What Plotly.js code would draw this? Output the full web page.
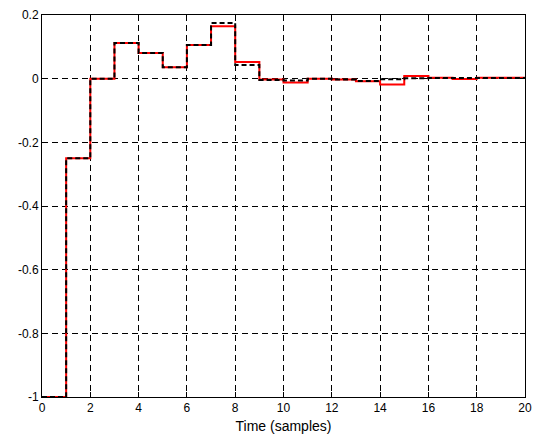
<!DOCTYPE html>
<html>
<head>
<meta charset="utf-8">
<script src="https://cdn.plot.ly/plotly-3.0.1.min.js"></script>
<style>html,body{margin:0;padding:0;background:#fff;}#chart{width:537px;height:441px;}</style>
</head>
<body>
<div id="chart"></div>
<script>
const samples = [0,1,2,3,4,5,6,7,8,9,10,11,12,13,14,15,16,17,18,19,20];
const redValues = [-1,-0.25,0,0.112,0.081,0.036,0.106,0.165,0.052,-0.003,-0.012,0,-0.003,-0.008,-0.018,0.008,0.003,-0.001,0.003,0.003,0.003];
const blackValues = [-1,-0.25,0,0.112,0.081,0.036,0.106,0.175,0.043,-0.004,-0.006,0,-0.003,-0.007,-0.002,0.001,0.002,0.002,0.002,0.002,0.002];
const xTicks = [0,2,4,6,8,10,12,14,16,18,20];
const yTicks = [-1,-0.8,-0.6,-0.4,-0.2,0,0.2];
const yTickText = ['-1','-0.8','-0.6','-0.4','-0.2','0','0.2'];

const traces = [
  {x: samples, y: redValues, type: 'scatter', mode: 'lines', line: {shape: 'hv', color: '#ff0000', width: 2}, hoverinfo: 'skip'},
  {x: samples, y: blackValues, type: 'scatter', mode: 'lines', line: {shape: 'hv', color: '#000000', width: 2, dash: '5px,3px'}, hoverinfo: 'skip'}
];
const axisCommon = {
  showline: true, linecolor: '#000', linewidth: 1, mirror: 'ticks',
  ticks: 'inside', ticklen: 5, tickcolor: '#000',
  showgrid: true, gridcolor: '#000', gridwidth: 1, griddash: '6px,4px',
  zeroline: false, tickfont: {family: 'Liberation Sans, Arial, sans-serif', size: 12, color: '#000'}
};
const layout = {
  width: 537, height: 441,
  margin: {l: 42, r: 12, t: 15, b: 44},
  paper_bgcolor: '#fff', plot_bgcolor: '#fff',
  showlegend: false,
  xaxis: Object.assign({}, axisCommon, {range: [0, 20], tickvals: xTicks, ticktext: xTicks.map(String),
    title: {text: 'Time (samples)', font: {family: 'Liberation Sans, Arial, sans-serif', size: 14, color: '#000'}, standoff: 6}}),
  yaxis: Object.assign({}, axisCommon, {range: [-1, 0.2], tickvals: yTicks, ticktext: yTickText})
};
Plotly.newPlot('chart', traces, layout, {staticPlot: true, displayModeBar: false});
</script>
</body>
</html>
